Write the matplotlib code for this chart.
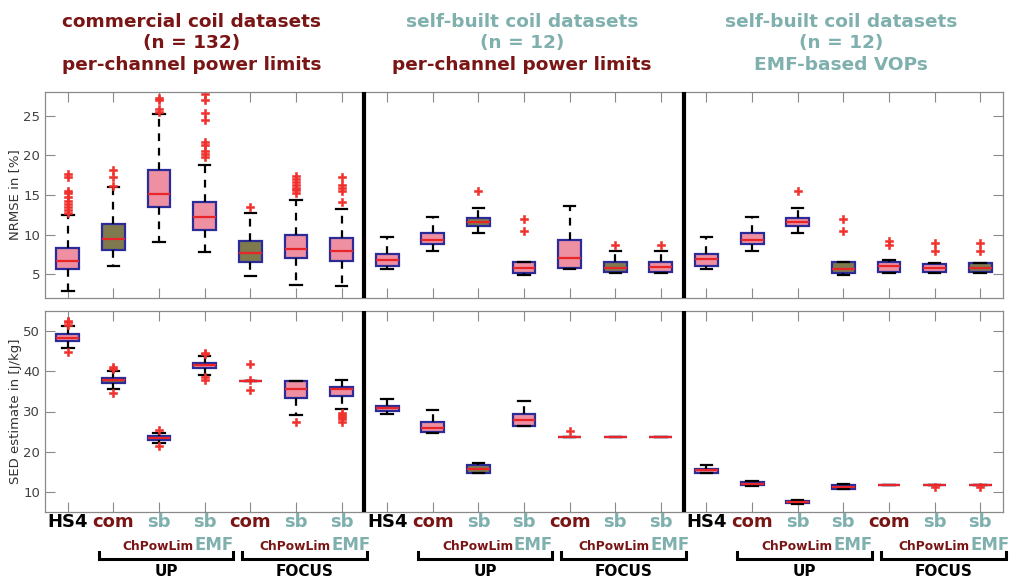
import matplotlib
matplotlib.use("Agg")
import matplotlib.pyplot as plt
from matplotlib.transforms import blended_transform_factory

# ---------------- data ----------------
positions = list(range(1, 22))

# NRMSE in [%]
nrmse_q1 = [5.63, 8.05, 13.5, 10.52, 6.59, 7.1, 6.67,
            6.05, 8.77, 11.15, 5.2, 5.84, 5.3, 5.3,
            6.05, 8.77, 11.15, 5.2, 5.33, 5.29, 5.29]
nrmse_med = [6.67, 9.48, 15.1, 12.24, 7.64, 8.14, 7.89,
             6.84, 9.35, 11.6, 5.75, 7.0, 5.84, 5.92,
             6.88, 9.3, 11.6, 5.71, 6.05, 5.84, 5.84]
nrmse_q3 = [8.35, 11.36, 18.18, 14.08, 9.23, 10.0, 9.52,
            7.6, 10.23, 12.07, 6.59, 9.3, 6.55, 6.55,
            7.6, 10.23, 12.07, 6.59, 6.59, 6.34, 6.38]
nrmse_lo = [2.9, 6.05, 9.1, 7.85, 4.8, 3.66, 3.54,
            5.63, 7.9, 10.23, 4.96, 5.63, 5.12, 5.12,
            5.6, 7.9, 10.23, 4.96, 5.12, 5.12, 5.12]
nrmse_hi = [12.53, 15.96, 25.17, 18.8, 12.74, 14.4, 13.28,
            9.73, 12.2, 13.37, 6.59, 13.6, 7.93, 7.93,
            9.73, 12.2, 13.37, 6.59, 6.76, 6.46, 6.46]
nrmse_fliers = [[17.6, 17.3, 15.5, 15.25, 14.8, 14.3, 13.9, 13.5, 13.1, 12.7],
                [18.2, 17.26, 16.17],
                [27.26, 26.97, 25.9, 25.5],
                [27.7, 27.05, 25.3, 24.46, 21.7, 21.3, 20.5, 20.2, 19.85],
                [13.5],
                [17.4, 17.0, 16.6, 16.2, 15.9, 15.6, 15.3],
                [17.3, 16.2, 15.9, 15.5, 14.1],
                [], [], [15.54], [11.99, 10.4], [], [8.68], [8.68],
                [], [], [15.54], [11.99, 10.4], [9.14, 8.68], [8.9, 7.93], [8.9, 7.93]]
nrmse_fill = ["P", "O", "P", "P", "O", "P", "P",
              "P", "P", "O", "P", "P", "O", "P",
              "P", "P", "P", "O", "P", "P", "O"]

# SED estimate in [J/kg]
sed_q1 = [47.53, 37.0, 22.84, 40.7, 37.57, 33.45, 33.87,
          30.08, 24.9, 14.6, 26.46, 23.74, 23.74, 23.74,
          14.77, 11.65, 7.2, 10.66, 11.73, 11.73, 11.73]
sed_med = [48.35, 37.74, 23.33, 41.5, 37.57, 35.5, 35.5,
           30.8, 25.9, 15.6, 27.94, 23.74, 23.74, 23.74,
           15.35, 12.06, 7.53, 11.15, 11.73, 11.73, 11.73]
sed_q3 = [49.34, 38.3, 23.8, 42.18, 37.57, 37.57, 36.17,
          31.4, 27.45, 16.58, 29.42, 23.74, 23.74, 23.74,
          15.76, 12.47, 7.78, 11.65, 11.73, 11.73, 11.73]
sed_lo = [45.9, 35.6, 22.2, 39.1, 37.57, 29.2, 30.7,
          29.34, 24.65, 14.6, 26.3, 23.74, 23.74, 23.74,
          14.6, 11.5, 7.1, 10.6, 11.73, 11.73, 11.73]
sed_hi = [51.2, 40.04, 24.65, 43.8, 37.57, 37.57, 37.74,
          33.0, 30.4, 17.24, 32.7, 23.74, 23.74, 23.74,
          16.58, 12.8, 8.0, 12.06, 11.73, 11.73, 11.73]
sed_fliers = [[52.6, 52.2, 51.6, 44.8],
              [41.1, 40.6, 34.7],
              [25.3, 21.4],
              [44.65, 44.2, 38.5, 37.8],
              [41.9, 35.3, 37.9],
              [27.4],
              [29.75, 29.2, 28.6, 28.1, 27.5],
              [], [], [], [], [25.06], [], [],
              [], [], [], [], [], [11.2], [11.2]]
sed_fill = ["P", "B", "P", "P", "P", "P", "P",
            "P", "P", "O", "P", "P", "P", "P",
            "P", "P", "P", "B", "P", "P", "P"]

cat_labels = ["HS4", "com", "sb", "sb", "com", "sb", "sb"] * 3
group_labels = ["UP", "FOCUS"]
title_lines = [["commercial coil datasets", "(n = 132)", "per-channel power limits"],
               ["self-built coil datasets", "(n = 12)", "per-channel power limits"],
               ["self-built coil datasets", "(n = 12)", "EMF-based VOPs"]]
nrmse_ticks = [5, 10, 15, 20, 25]
sed_ticks = [10, 20, 30, 40, 50]

# ---------------- style ----------------
DARKRED = "#7A1515"
TEAL = "#7FB0AE"
FILLS = {"P": "#EE90A2", "O": "#7E7A4E", "B": "#8A6A40"}
EDGE = "#2B2B9A"
W, H = 1009, 578

fig = plt.figure(figsize=(W / 100, H / 100), dpi=100)
ax1 = fig.add_axes([45 / W, (H - 298) / H, 958 / W, 206 / H])
ax2 = fig.add_axes([45 / W, (H - 512) / H, 958 / W, 201 / H])


def draw(ax, q1, med, q3, lo, hi, fl, fills, ylim, ticks, ylabel):
    stats = []
    for i in range(len(q1)):
        stats.append(dict(med=med[i], q1=q1[i], q3=q3[i],
                          whislo=lo[i], whishi=hi[i], fliers=fl[i]))
    art = ax.bxp(stats, positions=positions, widths=0.5, patch_artist=True,
                 showfliers=True,
                 boxprops=dict(edgecolor=EDGE, linewidth=1.6),
                 medianprops=dict(color="#E8262A", linewidth=1.6),
                 whiskerprops=dict(color="black", linewidth=1.6,
                                   linestyle=(0, (3.5, 3))),
                 capprops=dict(color="black", linewidth=1.6),
                 capwidths=0.25,
                 flierprops=dict(marker="P", markersize=6,
                                 markerfacecolor="#F0302C",
                                 markeredgecolor="#F0302C",
                                 markeredgewidth=0.4, linestyle="none"))
    for patch, f in zip(art["boxes"], fills):
        patch.set_facecolor(FILLS[f])
    ax.set_xlim(0.5, 21.5)
    ax.set_ylim(*ylim)
    ax.set_yticks(ticks)
    ax.set_xticks(positions)
    ax.set_xticklabels([])
    ax.tick_params(direction="in", length=7, width=0.8, color="#8A8A8A",
                   top=True, right=True, labelsize=9.5, labelcolor="#404040")
    for s in ax.spines.values():
        s.set_color("#8A8A8A")
        s.set_linewidth(0.9)
    ax.set_ylabel(ylabel, fontsize=9.5, color="#333333")
    for xv in (7.5, 14.5):
        ax.axvline(xv, color="black", linewidth=3, zorder=5)


draw(ax1, nrmse_q1, nrmse_med, nrmse_q3, nrmse_lo, nrmse_hi, nrmse_fliers,
     nrmse_fill, (2, 28), nrmse_ticks, "NRMSE in [%]")
draw(ax2, sed_q1, sed_med, sed_q3, sed_lo, sed_hi, sed_fliers,
     sed_fill, (5, 55), sed_ticks, "SED estimate in [J/kg]")
ax1.yaxis.set_label_coords(-0.0245, 0.5)
ax2.yaxis.set_label_coords(-0.0245, 0.5)

# titles
title_colors = [[DARKRED, DARKRED, DARKRED],
                [TEAL, TEAL, DARKRED],
                [TEAL, TEAL, TEAL]]
title_x = [192, 522, 841]
for k in range(3):
    for j, line in enumerate(title_lines[k]):
        fig.text(title_x[k] / W, 1 - (22 + 21.5 * j) / H, line,
                 ha="center", va="center", fontsize=13.3, fontweight="bold",
                 color=title_colors[k][j], family="DejaVu Sans")

# bottom labels
tr = blended_transform_factory(ax2.transData, fig.transFigure)
lab_col = {"HS4": "black", "com": DARKRED, "sb": TEAL}
for p, lab in zip(positions, cat_labels):
    ax2.text(p, 1 - 522 / H, lab, transform=tr, ha="center", va="center",
             fontsize=13, fontweight="bold", color=lab_col[lab], clip_on=False)

for s in range(3):
    base = 7 * s
    for g, (first, last) in enumerate([(2, 4), (5, 7)]):
        p_first = base + first
        p_last = base + last
        # ChPowLim / EMF sub labels
        ax2.text(p_last - 0.24, 1 - 546 / H, "ChPowLim", transform=tr,
                 ha="right", va="center", fontsize=8.8, fontweight="bold",
                 color=DARKRED, clip_on=False)
        ax2.text(p_last - 0.22, 1 - 545 / H, "EMF", transform=tr,
                 ha="left", va="center", fontsize=12, fontweight="bold",
                 color=TEAL, clip_on=False)
        # bracket
        x0 = p_first - (0.32 if g == 0 else 0.18)
        x1 = p_last + (0.62 if g == 0 else 0.56)
        yb = 1 - 559 / H
        yt = 1 - 552 / H
        ax2.plot([x0, x0, x1, x1], [yt, yb, yb, yt], transform=tr,
                 color="black", linewidth=2.2, clip_on=False,
                 solid_joinstyle="miter")
        ax2.text((x0 + x1) / 2, 1 - 571 / H, group_labels[g], transform=tr,
                 ha="center", va="center", fontsize=11, fontweight="bold",
                 color="black", clip_on=False)

fig.savefig("out.png", dpi=100)
